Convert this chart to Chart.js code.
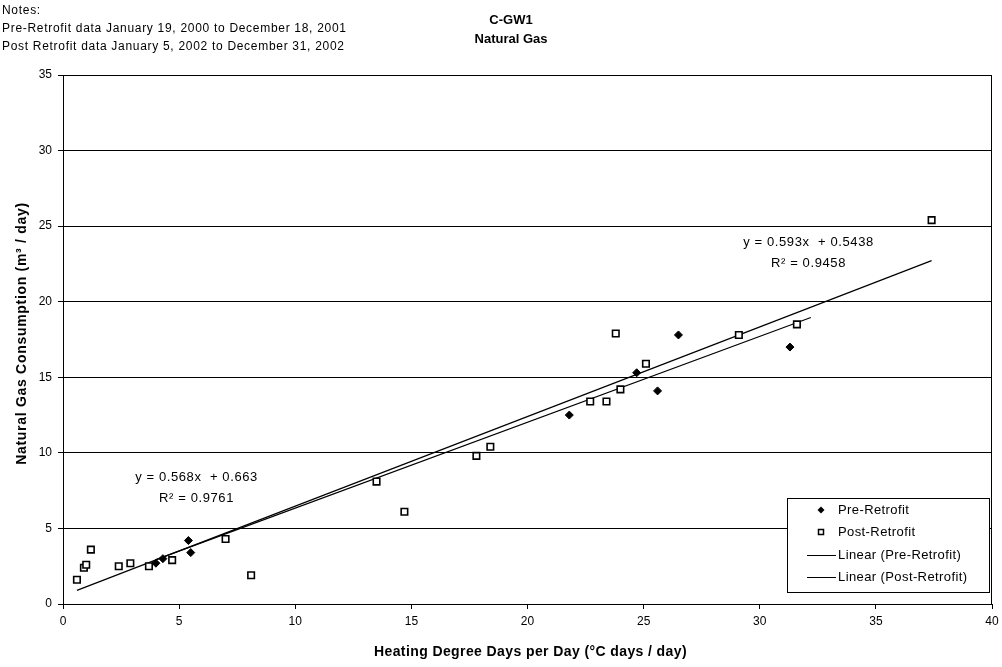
<!DOCTYPE html>
<html>
<head>
<meta charset="utf-8">
<script src="https://cdn.jsdelivr.net/npm/chart.js@4.4.0/dist/chart.umd.min.js"></script>
<style>
  body { margin: 0; background: #fff; }
  #wrap { width: 1002px; height: 667px; }
</style>
</head>
<body>
<div id="wrap"><canvas id="gasChart" width="1002" height="667"></canvas></div>
<script>
// Pre-retrofit daily readings (HDD per day, m3 per day)
const preX = [4.0, 4.3, 5.4, 5.5, 21.8, 24.7, 25.6, 26.5, 31.3];
const preY = [2.7, 3.0, 4.2, 3.4, 12.5, 15.3, 14.1, 17.8, 17.0];

// Post-retrofit daily readings
const postX = [0.6, 0.9, 1.0, 1.2, 2.4, 2.9, 3.7, 4.7, 7.0, 8.1, 13.5, 14.7, 17.8, 18.4, 22.7, 23.4, 23.8, 24.0, 25.1, 29.1, 31.6, 37.4];
const postY = [1.6, 2.4, 2.6, 3.6, 2.5, 2.7, 2.5, 2.9, 4.3, 1.9, 8.1, 6.1, 9.8, 10.4, 13.4, 13.4, 17.9, 14.2, 15.9, 17.8, 18.5, 25.4];

// Linear fits: slope, intercept, R2 and x span of each line
const preFit = [0.568, 0.663, 0.9761];
const postFit = [0.593, 0.5438, 0.9458];
const preTrendX = [4.0, 32.2];
const postTrendX = [0.6, 37.4];

const xTicks = [0, 5, 10, 15, 20, 25, 30, 35, 40];
const yTicks = [0, 5, 10, 15, 20, 25, 30, 35];

const notes = [
    'Notes:',
    'Pre-Retrofit data January 19, 2000 to December 18, 2001',
    'Post Retrofit data January 5, 2002 to December 31, 2002'
];
const titleLines = ['C-GW1', 'Natural Gas'];
const xTitle = 'Heating Degree Days per Day (\u00b0C days / day)';
const yTitle = 'Natural Gas Consumption (m\u00b3 / day)';

const FONT = '"Liberation Sans", Arial, sans-serif';

const toPoints = (xs, ys) => xs.map((x, i) => ({ x: x, y: ys[i] }));
const fitLine = (fit, span) => span.map(x => ({ x: x, y: fit[0] * x + fit[1] }));

// header notes, titles, axis titles, fit equations and the boxed legend
const extras = {
    id: 'extras',
    afterDraw(chart) {
        const ctx = chart.ctx;
        const xs = chart.scales.x, ys = chart.scales.y;
        const area = chart.chartArea;
        ctx.save();

        // plot frame
        ctx.strokeStyle = '#000';
        ctx.lineWidth = 1;
        ctx.strokeRect(area.left + 0.5, area.top + 0.5, area.right - area.left - 1, area.bottom - area.top);

        ctx.fillStyle = '#000';
        ctx.textBaseline = 'middle';
        ctx.font = '12px ' + FONT;
        ctx.letterSpacing = '0.7px';
        ctx.textAlign = 'left';
        notes.forEach((t, i) => ctx.fillText(t, 2, 11 + i * 18));

        ctx.letterSpacing = '0px';
        ctx.font = 'bold 13px ' + FONT;
        ctx.textAlign = 'center';
        titleLines.forEach((t, i) => ctx.fillText(t, 511, 20 + i * 19));

        // axis titles
        ctx.font = 'bold 14px ' + FONT;
        ctx.letterSpacing = '0.4px';
        ctx.fillText(xTitle, (area.left + area.right) / 2 + 3, 652);
        ctx.save();
        ctx.translate(22, (area.top + area.bottom) / 2 - 6);
        ctx.rotate(-Math.PI / 2);
        ctx.letterSpacing = '0.7px';
        ctx.fillText(yTitle, 0, 0);
        ctx.restore();

        // equations of the fitted lines
        ctx.font = '13px ' + FONT;
        ctx.letterSpacing = '0.6px';
        const eq = (fit, x, y) => {
            const px = xs.getPixelForValue(x), py = ys.getPixelForValue(y);
            ctx.fillText('y = ' + fit[0] + 'x  + ' + fit[1], px, py);
            ctx.fillText('R\u00b2 = ' + fit[2], px, py + 21);
        };
        eq(postFit, 32.1, 23.9);
        eq(preFit, 5.75, 8.4);

        // legend
        const lx = 787, ly = 498, lw = 202, lh = 94;
        ctx.fillStyle = '#fff';
        ctx.fillRect(lx, ly, lw, lh);
        ctx.strokeRect(lx + 0.5, ly + 0.5, lw, lh);
        ctx.fillStyle = '#000';
        ctx.textAlign = 'left';
        ctx.letterSpacing = '0.4px';
        chart.data.datasets.forEach((ds, i) => {
            const cy = Math.round(ly + 12 + i * 22.3);
            if (ds.showLine) {
                ctx.beginPath();
                ctx.moveTo(807, cy + 0.5);
                ctx.lineTo(836, cy + 0.5);
                ctx.stroke();
            } else if (ds.pointStyle === 'rectRot') {
                ctx.beginPath();
                ctx.moveTo(821, cy - 3.5);
                ctx.lineTo(824.5, cy);
                ctx.lineTo(821, cy + 3.5);
                ctx.lineTo(817.5, cy);
                ctx.closePath();
                ctx.fill();
            } else {
                ctx.lineWidth = 1.5;
                ctx.strokeRect(818.5, cy - 2.5, 5, 5);
                ctx.lineWidth = 1;
            }
            ctx.fillText(ds.label, 838, cy);
        });
        ctx.restore();
    }
};

new Chart(document.getElementById('gasChart'), {
    type: 'scatter',
    data: {
        datasets: [{
            label: 'Pre-Retrofit',
            data: toPoints(preX, preY),
            pointStyle: 'rectRot',
            pointRadius: 4,
            backgroundColor: '#000',
            borderColor: '#000',
            borderWidth: 1
        }, {
            label: 'Post-Retrofit',
            data: toPoints(postX, postY),
            pointStyle: 'rect',
            pointRadius: 4.6,
            backgroundColor: '#fff',
            borderColor: '#000',
            borderWidth: 1.6
        }, {
            label: 'Linear (Pre-Retrofit)',
            data: fitLine(preFit, preTrendX),
            showLine: true,
            pointRadius: 0,
            borderColor: '#000',
            borderWidth: 1.2
        }, {
            label: 'Linear (Post-Retrofit)',
            data: fitLine(postFit, postTrendX),
            showLine: true,
            pointRadius: 0,
            borderColor: '#000',
            borderWidth: 1.2
        }]
    },
    options: {
        responsive: false,
        animation: false,
        layout: { padding: { top: 75, right: 10, left: 0, bottom: 0 } },
        plugins: {
            legend: { display: false },
            tooltip: { enabled: false }
        },
        scales: {
            x: {
                type: 'linear',
                min: 0,
                max: 40,
                afterBuildTicks: s => { s.ticks = xTicks.map(v => ({ value: v })); },
                afterFit: s => { s.height = 63; s.paddingLeft = 0; s.paddingRight = 0; },
                grid: { drawOnChartArea: false, color: '#000', tickLength: 5 },
                border: { color: '#000' },
                ticks: { color: '#000', padding: 5, maxRotation: 0, font: { family: FONT, size: 12 } }
            },
            y: {
                type: 'linear',
                min: 0,
                max: 35,
                afterBuildTicks: s => { s.ticks = yTicks.map(v => ({ value: v })); },
                afterFit: s => { s.width = 63; },
                grid: { color: '#000', tickLength: 5 },
                border: { color: '#000' },
                ticks: { color: '#000', padding: 6, font: { family: FONT, size: 12 } }
            }
        }
    },
    plugins: [extras]
});
</script>
</body>
</html>
